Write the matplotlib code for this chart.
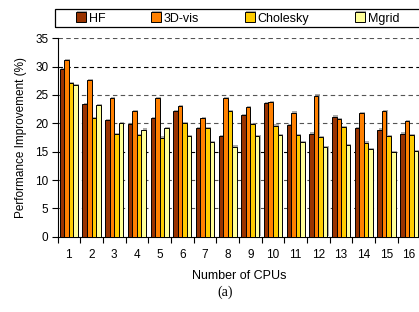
import numpy as np
import matplotlib
matplotlib.use("Agg")
import matplotlib.pyplot as plt
import matplotlib.patches as mpatches
import matplotlib.patheffects as pe

plt.rcParams['font.family'] = ['Liberation Sans', 'DejaVu Sans']

# data
cpus = list(range(1, 17))
hf = [29.5, 23.4, 20.6, 19.9, 20.9, 22.1, 19.2, 17.7, 21.5, 23.5, 19.7, 18.2, 21.2, 19.1, 18.9, 18.2]
vis3d = [31.2, 27.7, 24.5, 22.2, 24.4, 23.0, 20.9, 24.5, 22.9, 23.7, 21.9, 24.9, 20.8, 21.8, 22.1, 20.4]
cholesky = [27.1, 20.9, 18.1, 18.0, 17.5, 20.1, 19.2, 22.1, 19.8, 19.6, 18.0, 17.6, 19.4, 16.6, 17.7, 17.9]
mgrid = [26.8, 23.3, 20.1, 18.9, 19.1, 17.8, 16.7, 15.9, 17.8, 18.0, 16.7, 15.8, 16.1, 15.5, 14.9, 15.1]

series = [("HF", hf, "#993300"),
          ("3D-vis", vis3d, "#FF8000"),
          ("Cholesky", cholesky, "#FFCC00"),
          ("Mgrid", mgrid, "#FFFF99")]

W, H = 419, 312
fig = plt.figure(figsize=(W / 100, H / 100), dpi=100)
ax = fig.add_axes([57.5 / W, (H - 236.7) / H, 363 / W, 198.4 / H])

x = np.array(cpus)
bw = 0.2
shadow = [pe.SimplePatchShadow(offset=(0.8, 0.8), shadow_rgbFace="#888888", alpha=0.7), pe.Normal()]
for i, (name, vals, col) in enumerate(series):
    bars = ax.bar(x + (i - 1.5) * bw, vals, bw, color=col, edgecolor="black",
                  linewidth=0.7, label=name, zorder=3)
    for b in bars:
        b.set_path_effects(shadow)

ax.set_xlim(0.5, 16.5)
ax.set_ylim(0, 35)
ax.set_yticks(range(0, 36, 5))
for v in range(5, 36, 5):
    ax.axhline(v, color="black" if v in (30, 15) else "#555555", lw=0.8,
               ls=(0, (4, 3)), zorder=1)

ax.set_xticks(np.arange(0.5, 17, 1))
ax.set_xticklabels([])
ax.set_xticks(x, minor=True)
ax.set_xticklabels([str(c) for c in cpus], minor=True, fontsize=8.5)
ax.tick_params(axis="x", which="major", direction="out", length=4, width=0.8)
ax.tick_params(axis="x", which="minor", length=0, pad=9)
ax.tick_params(axis="y", direction="out", length=4.5, width=0.8, labelsize=8.5, pad=2)

for s in ["top", "right"]:
    ax.spines[s].set_visible(False)
ax.spines["left"].set_linewidth(0.8)
ax.spines["bottom"].set_linewidth(0.8)

ax.set_ylabel("Performance Improvement (%)", fontsize=8.5, labelpad=6)
ax.set_xlabel("Number of CPUs", fontsize=9, labelpad=6)
fig.text(225 / W, 1 - 292 / H, "(a)", ha="center", va="center",
         family="Liberation Serif", fontsize=10)

# legend box
frame = mpatches.Rectangle((55 / W, (H - 27) / H), 380 / W, 18 / H,
                           transform=fig.transFigure, fill=False,
                           edgecolor="black", lw=0.9)
fig.add_artist(frame)
fig.legend(loc="center left", bbox_to_anchor=(76 / W, 1 - 18.5 / H), ncol=4,
           frameon=False, fontsize=9, handlelength=0.8, handleheight=0.85,
           handletextpad=0.2, columnspacing=3.68, borderpad=0, borderaxespad=0)

fig.savefig("out.png", dpi=100)
